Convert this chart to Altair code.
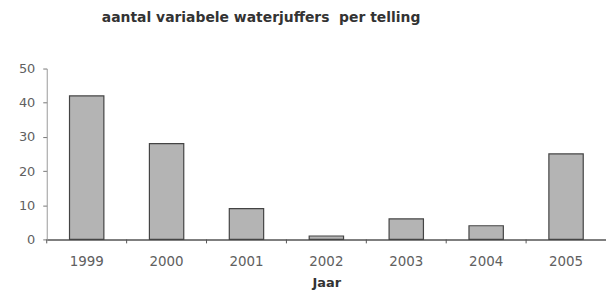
import altair as alt
import pandas as pd

years = ["1999", "2000", "2001", "2002", "2003", "2004", "2005"]
counts = [42, 28, 9, 1, 6, 4, 25]

df = pd.DataFrame({"Jaar": years, "aantal": counts})

W, H = 563, 172
FONT = "DejaVu Sans"

x_enc = alt.X(
    "Jaar:N",
    sort=years,
    scale=alt.Scale(paddingInner=0, paddingOuter=0),
    axis=alt.Axis(
        title="Jaar", labelAngle=0, ticks=False, labelPadding=15,
        labelFontSize=13.5, labelColor="#606060", labelFont=FONT,
        titleFont=FONT, titleFontSize=13, titleFontWeight="bold",
        titleColor="#333333", titlePadding=9,
        domainColor="#555555", domainWidth=1.5,
    ),
)

bars = alt.Chart(df).mark_bar(
    width={"band": 0.43}, fill="#b4b4b4", stroke="#444444", strokeWidth=1.2
).encode(
    x=x_enc,
    y=alt.Y(
        "aantal:Q",
        scale=alt.Scale(domain=[0, 50], nice=False),
        axis=alt.Axis(
            title=None, values=[0, 10, 20, 30, 40, 50], grid=False,
            tickSize=4, tickColor="#777777", labelPadding=8,
            labelFontSize=13, labelColor="#606060", labelFont=FONT,
            domainColor="#999999",
        ),
    ),
)

ticks = alt.Chart(df).mark_rule(color="#555555", strokeWidth=1).encode(
    x=alt.X("Jaar:N", sort=years, bandPosition=0),
    y=alt.value(H),
    y2=alt.value(H + 4),
)

chart = (
    alt.layer(bars, ticks)
    .properties(
        width=W,
        height=H,
        autosize=alt.AutoSizeParams(type="none"),
        padding={"left": 39, "top": 60, "right": 0, "bottom": 50},
        title=alt.TitleParams(
            "aantal variabele waterjuffers\u00a0\u00a0per telling",
            anchor="start", dx=84, offset=38, fontSize=14,
            font=FONT, fontWeight="bold", color="#333333",
        ),
    )
    .configure_view(stroke=None)
)

chart.save("out.html", embed_options={"renderer": "svg", "actions": False})
